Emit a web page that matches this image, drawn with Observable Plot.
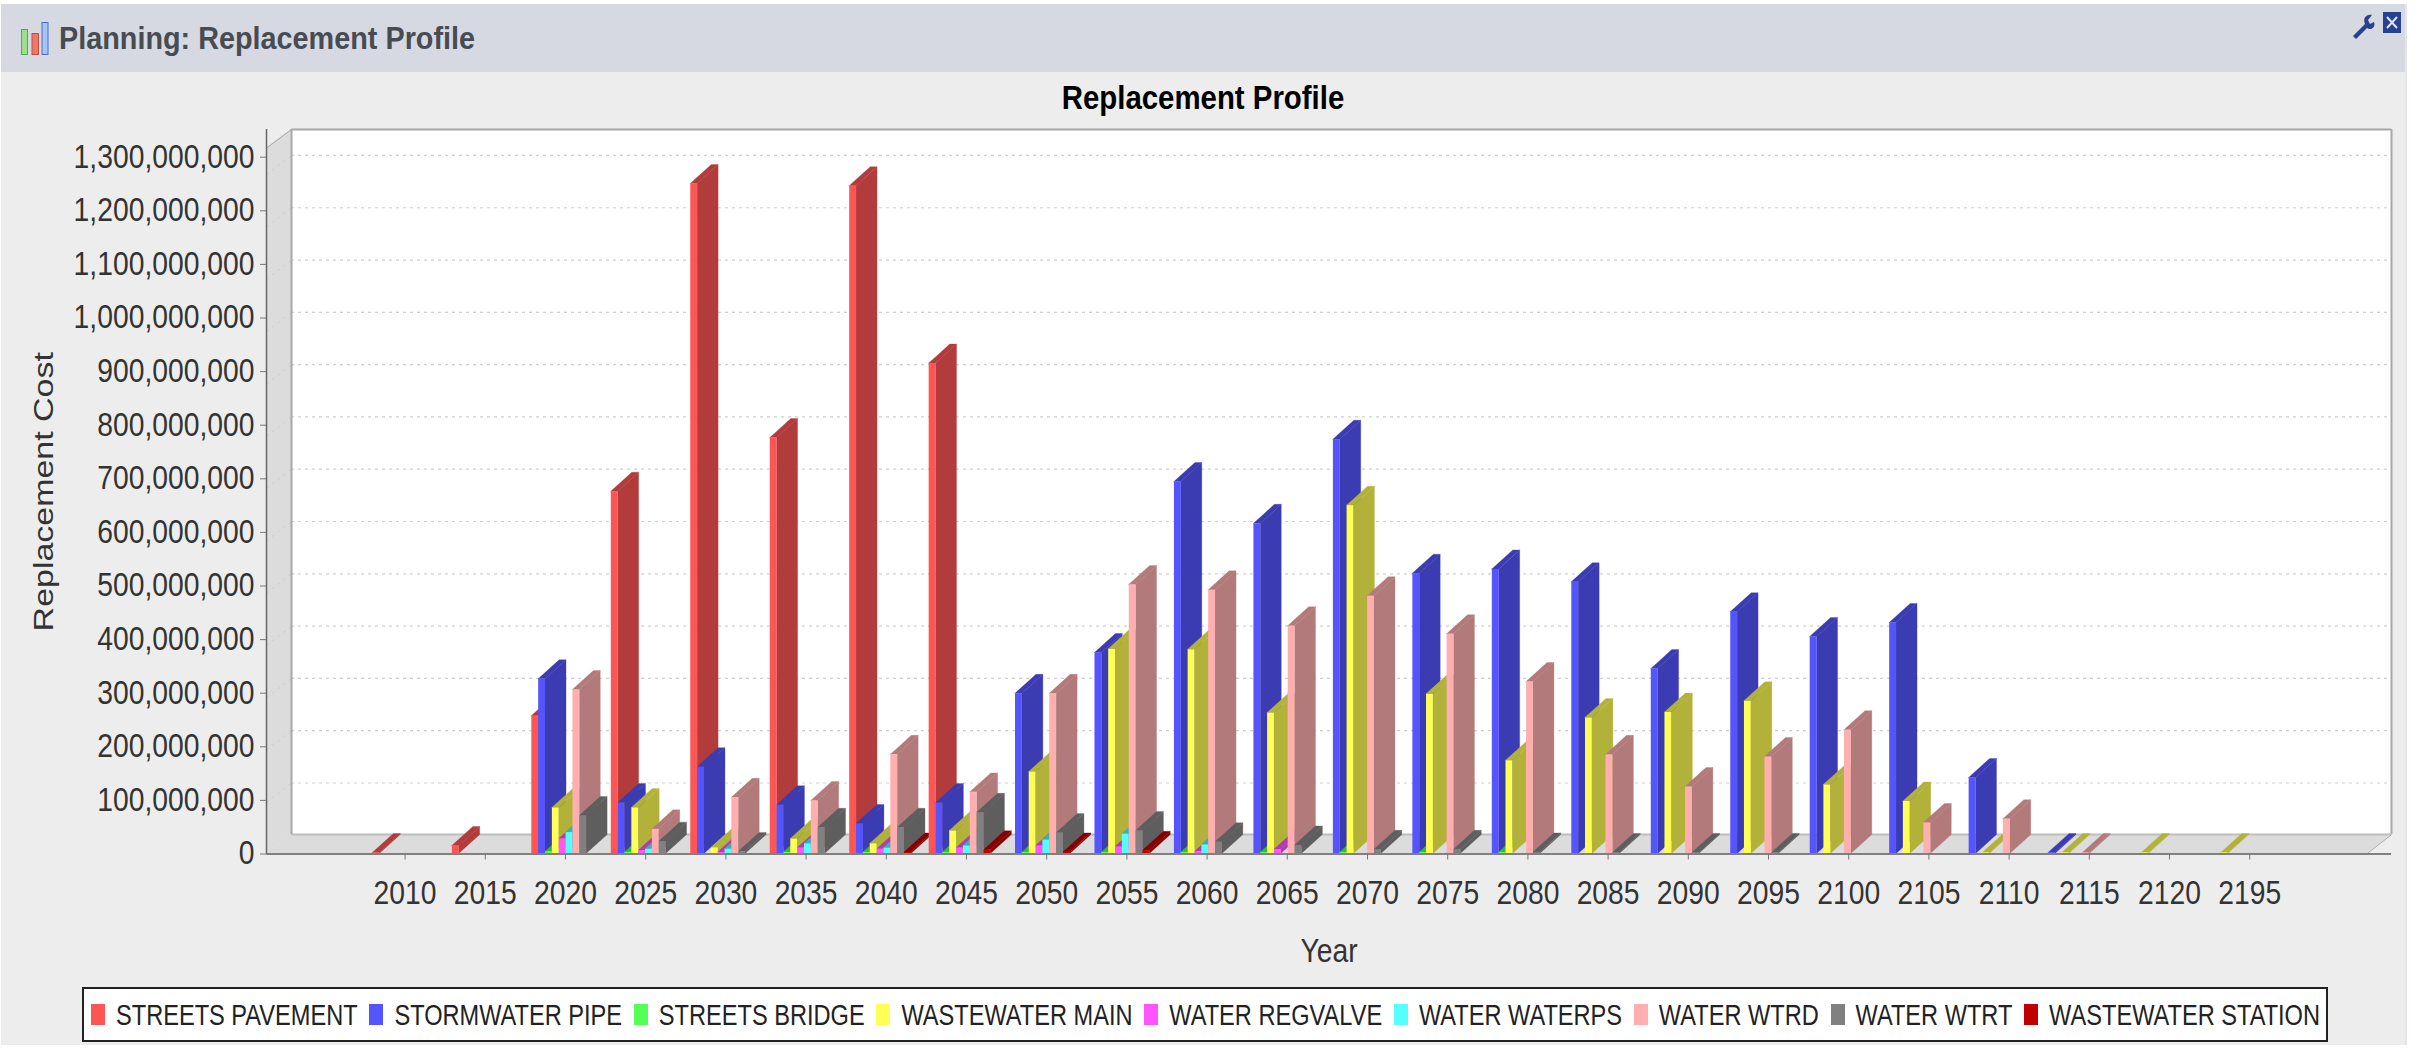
<!DOCTYPE html>
<html>
<head>
<meta charset="utf-8">
<script src="https://cdn.jsdelivr.net/npm/d3@7"></script>
<script src="https://cdn.jsdelivr.net/npm/@observablehq/plot@0.6"></script>
<style>
  html,body{margin:0;padding:0;background:#fff;width:2420px;height:1049px;overflow:hidden;font-family:"Liberation Sans",Arial,sans-serif}
  #panel{position:absolute;left:1px;top:4px;width:2404px;height:1041px;background:#ededed;border-right:2px solid #e4e6ef}
  #head{position:absolute;left:0;top:0;width:100%;height:68px;background:#d6d9e1}
  #headTitle{position:absolute;left:59px;top:21px;font-weight:bold;font-size:28.8px;line-height:34px;color:#474b52;transform:scaleY(1.12);transform-origin:left center;white-space:nowrap}
  #chartTitle{position:absolute;left:0;width:2406px;top:81px;text-align:center;font-weight:bold;font-size:29.4px;line-height:34px;color:#000;transform:scaleY(1.12)}
  #icons,#tools{position:absolute;left:0;top:0}
  #plot{position:absolute;left:0;top:110px}
  #plot svg{overflow:visible;background:transparent}
  #legend{position:absolute;left:82px;top:987px;width:2236px;height:51px;background:#fff;border:2px solid #222;display:flex;align-items:center;justify-content:space-between;box-sizing:content-box;padding-right:6px}
  .it{display:flex;align-items:center;margin-left:7px}
  .sw{width:14px;height:21px;margin-right:11px}
  .tx{font-size:23.6px;line-height:26px;color:#222;white-space:nowrap;transform:scaleY(1.22)}
</style>
</head>
<body>
<div id="panel">
  <div id="head"></div>
</div>
<svg id="icons" width="2420" height="72">
  <rect x="21.5" y="29.5" width="6" height="25" fill="#9ddf8a" stroke="#46b246"/>
  <rect x="32" y="33.5" width="6.5" height="21" fill="#ee7766" stroke="#c84a3a"/>
  <rect x="42" y="22.5" width="6" height="32" fill="#a9c4f2" stroke="#4470cc"/>
  <path d="M2353 36 L2365 24 C2362 17 2368 14 2372 15 L2368 20 L2370 24 L2374 22 C2376 27 2371 31 2367 28 L2356 39 Z" fill="#27408f"/>
  <rect x="2383" y="12" width="18" height="21" fill="#27408f"/>
  <path d="M2387 17 L2397 28 M2397 17 L2387 28" stroke="#dfe4f2" stroke-width="2"/>
</svg>
<div id="headTitle">Planning: Replacement Profile</div>
<div id="chartTitle">Replacement Profile</div>
<div id="plot"></div>
<div id="legend"></div>
<script>
const years = [2010,2015,2020,2025,2030,2035,2040,2045,2050,2055,2060,2065,2070,2075,2080,2085,2090,2095,2100,2105,2110,2115,2120,2195];
const seriesNames = ["STREETS PAVEMENT","STORMWATER PIPE","STREETS BRIDGE","WASTEWATER MAIN","WATER REGVALVE","WATER WATERPS","WATER WTRD","WATER WTRT","WASTEWATER STATION"];
// values in millions, as read against the axis
const streetsPavement = [2,15,257,676,1250,776,1246,915,0,0,0,0,0,0,0,0,0,0,0,0,0,0,0,0];
const stormwaterPipe  = [0,0,326,95,162,91,56,95,299,375,694,616,773,523,531,507,345,451,405,431,142,2,0,0];
const streetsBridge   = [0,0,4,3,0,3,3,3,3,3,3,3,3,3,3,0,0,0,0,0,0,0,0,0];
const wastewaterMain  = [0,0,86,86,11,28,19,43,153,382,381,263,650,298,174,254,264,285,129,98,2,2,2,2];
const waterRegvalve   = [0,0,28,6,3,11,9,11,15,13,4,8,0,0,0,0,0,0,0,0,0,0,0,0];
const waterWaterps    = [0,0,40,9,9,19,11,15,26,37,17,0,0,0,0,0,0,0,0,0,0,0,0,0];
const waterWtrd       = [0,0,306,46,105,99,185,115,299,502,492,425,481,410,321,185,125,181,231,58,65,2,0,0];
const waterWtrt       = [0,0,71,23,4,49,49,77,39,43,22,16,8,8,3,2,2,2,0,0,0,0,0,0];
const wastewaterStation=[0,0,0,0,0,0,3,7,3,6,0,0,0,0,0,0,0,0,0,0,0,0,0,0];
const seriesValues = [streetsPavement,stormwaterPipe,streetsBridge,wastewaterMain,waterRegvalve,waterWaterps,waterWtrd,waterWtrt,wastewaterStation];
const frontColors = ["#ff5555","#5555ff","#55ff55","#ffff55","#ff55ff","#55ffff","#ffafaf","#808080","#c00000"];
const sideColors  = ["#b23b3b","#3b3bb2","#3bb23b","#b2b23b","#b23bb2","#3bb2b2","#b27a7a","#5e5e5e","#860000"];
const yTicks = d3.range(0,14).map(k=>k*100);

const UNIT = 1e6;
// x scale: category index; y scale: dollars
const xMin = -1.728, xMax = 24.768, yMax = 1351.7*UNIT;
const pxX = 1/80.2;                // one pixel in x units
const depthX = 21*pxX, depthY = 35.4*UNIT;    // oblique depth of each bar
const barW = 6.85*pxX;
const barStart = i => i*79.47/80.2 - 32.2*pxX;
const wallDX = 25*pxX, wallDY = 36.2*UNIT;
const L = xMin, R = xMax;

const bars = [];
years.forEach((yr,i)=>seriesValues.forEach((vals,s)=>{
  if(vals[i]>0) bars.push({i,s,v:vals[i]*UNIT,x0:barStart(i)+s*barW});
}));
const shapes = bars.flatMap((b,k)=>{
  const xa=b.x0, xb=b.x0+barW, xc=xb+depthX, fill=sideColors[b.s];
  const slope=depthY/depthX, wTop=barW*slope;
  return [
    {id:k+"s",x:xb,y1:0,y2:b.v,fill},
    {id:k+"s",x:xc,y1:depthY,y2:b.v+depthY,fill},
    {id:k+"t",x:xa,y1:b.v,y2:b.v,fill},
    {id:k+"t",x:xb,y1:b.v,y2:b.v+wTop,fill},
    {id:k+"t",x:xc-barW,y1:b.v+depthY-wTop,y2:b.v+depthY,fill},
    {id:k+"t",x:xc,y1:b.v+depthY,y2:b.v+depthY,fill}
  ];
});
const gridY = v => 34.9*UNIT + 0.9757*v;
const wall = [
  {x:L,y1:0,y2:1317*UNIT},
  {x:L+wallDX,y1:wallDY,y2:yMax}
];
const floor = [
  {x:L,y1:0,y2:0},
  {x:L+wallDX,y1:0,y2:wallDY},
  {x:R-wallDX,y1:0,y2:wallDY},
  {x:R,y1:wallDY,y2:wallDY}
];
const edge="#a8a8a8";
const chart = Plot.plot({
  width:2420, height:860,
  marginLeft:266, marginRight:29, marginTop:19, marginBottom:116.5,
  style:{background:"transparent",fontFamily:"'Liberation Sans',Arial,sans-serif"},
  x:{domain:[xMin,xMax],label:null},
  y:{domain:[0,yMax],label:null},
  marks:[
    Plot.rect([0],{x1:L+wallDX,x2:R,y1:wallDY,y2:yMax,fill:"#fff"}),
    Plot.area(wall,{x1:"x",y1:"y1",y2:"y2",fill:"#dcdcdc"}),
    Plot.area(floor,{x1:"x",y1:"y1",y2:"y2",fill:"#dcdcdc"}),
    Plot.ruleY(yTicks.slice(1),{y:d=>gridY(d*UNIT),x1:L+wallDX,x2:R,stroke:"#cfcfcf",strokeDasharray:"3,4",strokeWidth:1.2}),
    Plot.link(yTicks.slice(1),{x1:L,x2:L+wallDX,y1:d=>gridY(d*UNIT)-wallDY,y2:d=>gridY(d*UNIT),stroke:"#cdcdcd",strokeDasharray:"3,4"}),
    Plot.ruleY([yMax],{x1:L+wallDX,x2:R,stroke:edge,strokeWidth:2}),
    Plot.ruleY([wallDY],{x1:L+wallDX,x2:R,stroke:"#bdbdbd",strokeWidth:2}),
    Plot.ruleX([L+wallDX],{y1:wallDY,y2:yMax,stroke:edge,strokeWidth:2}),
    Plot.ruleX([R],{y1:wallDY,y2:yMax,stroke:edge,strokeWidth:2}),
    Plot.link([0],{x1:L,y1:1317*UNIT,x2:L+wallDX,y2:yMax,stroke:edge}),
    Plot.link([0],{x1:R-wallDX,y1:0,x2:R,y2:wallDY,stroke:edge}),
    Plot.area(shapes,{x1:"x",y1:"y1",y2:"y2",z:"id",fill:"fill",stroke:"fill",strokeWidth:0.3}),
    Plot.rect(bars,{x1:"x0",x2:d=>d.x0+barW,y1:0,y2:"v",fill:d=>frontColors[d.s]}),
    Plot.ruleY([0],{x1:L,x2:R,stroke:"#808080",strokeWidth:2}),
    Plot.ruleX([L],{y1:0,y2:yMax,stroke:"#666",strokeWidth:1.5}),
    Plot.axisY({ticks:yTicks.map(d=>d*UNIT),tickFormat:d3.format(",d"),tickSize:6,tickPadding:6,fontSize:28.3,stroke:"#777",color:"#333",
      label:"Replacement Cost",labelAnchor:"center",labelArrow:"none",labelOffset:234}),
    Plot.axisX({ticks:years.map((d,i)=>i),tickFormat:i=>String(years[i]),tickSize:6,tickPadding:21,fontSize:28.3,stroke:"#777",color:"#333",
      label:"Year",labelAnchor:"center",labelArrow:"none",labelOffset:108})
  ]
});
document.getElementById("plot").appendChild(chart);
// the reference is stretched vertically: stretch axis text the same way
chart.querySelectorAll('g[aria-label$="tick label"] text, g[aria-label$="label"] text').forEach(t=>{
  const tr=t.getAttribute("transform")||"";
  const rotated=/rotate/.test(tr);
  t.setAttribute("transform",tr+(rotated?" scale(1.2,1)":" scale(1,1.15)"));
});
const legend=document.getElementById("legend");
seriesNames.forEach((n,s)=>{
  const it=document.createElement("div");it.className="it";
  const sw=document.createElement("div");sw.className="sw";sw.style.background=frontColors[s];
  const tx=document.createElement("div");tx.className="tx";tx.textContent=n;
  it.append(sw,tx);legend.append(it);
});
</script>
</body>
</html>
